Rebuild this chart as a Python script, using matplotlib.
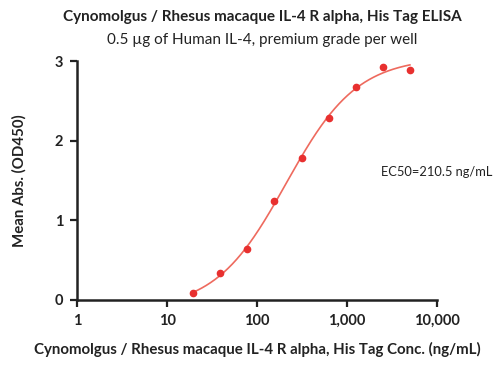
import numpy as np
import matplotlib
matplotlib.use("Agg")
import matplotlib.pyplot as plt
from matplotlib.ticker import FixedLocator, FixedFormatter, NullLocator

plt.rcParams['font.family'] = ['Lato', 'DejaVu Sans']

conc = [19.5, 39.1, 78.1, 156.3, 312.5, 625, 1250, 2500, 5000]
od = [0.09, 0.335, 0.64, 1.24, 1.785, 2.28, 2.67, 2.93, 2.89]
ec50 = 210.5
xticks = [1, 10, 100, 1000, 10000]
xticklabels = ["1", "10", "100", "1,000", "10,000"]
yticks = [0, 1, 2, 3]

title = "Cynomolgus / Rhesus macaque IL-4 R alpha, His Tag ELISA"
subtitle = "0.5 \u00b5g of Human IL-4, premium grade per well"
xlabel = "Cynomolgus / Rhesus macaque IL-4 R alpha, His Tag Conc. (ng/mL)"
ylabel = "Mean Abs. (OD450)"

# 4PL fit with fixed EC50 (grid search)
x = np.array(conc); y = np.array(od)
best = None
for hill in np.linspace(0.8, 2.0, 61):
    r = 1.0 / (1.0 + (ec50 / x) ** hill)
    A = np.vstack([np.ones_like(r), r]).T
    coef, *_ = np.linalg.lstsq(A, y, rcond=None)
    err = np.sum((A @ coef - y) ** 2)
    if best is None or err < best[0]:
        best = (err, hill, coef)
_, hill, (bottom, span) = best
xs = np.logspace(np.log10(conc[0]), np.log10(conc[-1]), 300)
ys = bottom + span / (1.0 + (ec50 / xs) ** hill)

fig = plt.figure(figsize=(5.04, 3.68), dpi=100)
ax = fig.add_axes([0.153, 0.185, 0.714, 0.649])
red = "#e8302f"
ax.plot(xs, ys, color="#ee6a5e", lw=1.2, zorder=2)
ax.plot(conc, od, "o", color=red, ms=4.5, zorder=3)

ax.set_xscale("log")
ax.set_xlim(1, 10000)
ax.set_ylim(0, 3)
ax.xaxis.set_major_locator(FixedLocator(xticks))
ax.xaxis.set_major_formatter(FixedFormatter(xticklabels))
ax.xaxis.set_minor_locator(NullLocator())
ax.set_yticks(yticks)
for s in ["top", "right"]:
    ax.spines[s].set_visible(False)
for s in ["left", "bottom"]:
    ax.spines[s].set_linewidth(1.8)
    ax.spines[s].set_color("#222222")
ax.tick_params(direction="out", length=5, width=1.6, color="#222222",
               labelsize=10.5, pad=5)
for lab in ax.get_xticklabels() + ax.get_yticklabels():
    lab.set_fontweight("bold")
    lab.set_color("#222222")
ax.spines["left"].set_bounds(0, 3)

ax.set_xlabel(xlabel, fontsize=10.8, fontweight="bold", color="#222222", labelpad=10)
ax.set_ylabel(ylabel, fontsize=10.8, fontweight="bold", color="#222222", labelpad=20)

fig.text(0.52, 0.955, title, ha="center", va="center", fontsize=11, fontweight="bold", color="#222222")
fig.text(0.52, 0.89, subtitle, ha="center", va="center", fontsize=11, color="#222222")
fig.text(0.976, 0.532, "EC50=210.5 ng/mL", ha="right", va="center",
         fontsize=9.3, color="#222222")

fig.savefig("out.png", dpi=100)
